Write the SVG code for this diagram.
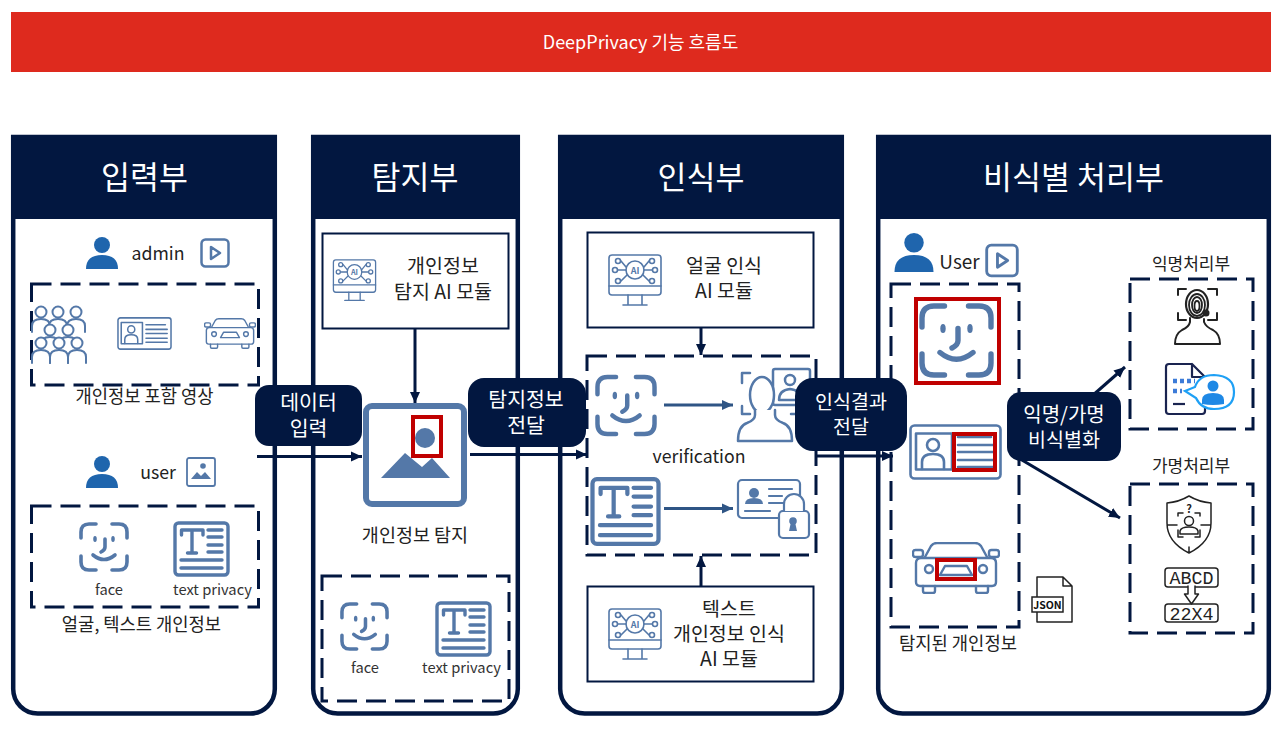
<svg xmlns="http://www.w3.org/2000/svg" width="1285" height="732" viewBox="0 0 1285 732">
<style>
text{font-family:"Noto Sans CJK KR","Noto Sans",sans-serif;fill:#222;text-anchor:middle}
.h{font-size:31.500px;fill:#fff}
.l{font-size:17.700px}
.s{font-size:14.700px;fill:#333}
.m{font-size:19.500px}
.u{font-size:17.700px}
.p{font-size:20.500px;fill:#fff}
.panel{fill:#fff;stroke:#021740;stroke-width:4.500}
.head{fill:#021740}
.dash{fill:none;stroke:#021740;stroke-width:3;stroke-dasharray:20 9}
.box{fill:#fff;stroke:#021740;stroke-width:2}
.pill{fill:#021740}
.ico{fill:none;stroke:#5478A8;stroke-linecap:round;stroke-linejoin:round}
.sol{fill:#5478A8;stroke:none}
.red{fill:none;stroke:#C00000;stroke-width:4}
.c{fill:none;stroke:#021740;stroke-width:3}
.ci{fill:none;stroke:#2F5585;stroke-width:3}
.bk{fill:none;stroke:#222;stroke-width:1.500;stroke-linecap:round;stroke-linejoin:round}
.mono{font-family:"Liberation Mono",monospace;font-size:19px}
</style>
<defs>
<marker id="a" markerUnits="userSpaceOnUse" markerWidth="12" markerHeight="12" refX="11" refY="6" orient="auto"><path d="M0,1 L11,6 L0,11 Z" fill="#021740"/></marker>
<marker id="b" markerUnits="userSpaceOnUse" markerWidth="12" markerHeight="12" refX="11" refY="6" orient="auto"><path d="M0,1 L11,6 L0,11 Z" fill="#2F5585"/></marker>
<symbol id="face" viewBox="0 0 50 50"><g class="ico" stroke-width="3.600"><path d="M2,16V10Q2,2 10,2H17M33,2H40Q48,2 48,10V16M2,34V40Q2,48 10,48H17M33,48H40Q48,48 48,40V34M26,17V25Q26,28 22,30M14,33Q25,42 36,33"/></g><ellipse class="sol" cx="16" cy="17" rx="1.800" ry="3"/><ellipse class="sol" cx="34" cy="17" rx="1.800" ry="3"/></symbol>
<symbol id="doc" viewBox="0 0 57 56"><rect class="ico" x="2" y="2" width="53" height="52" rx="3.500" stroke-width="3.400"/><path class="ico" stroke-width="3.400" d="M8.500,14V9H30V14M19,9V31M14.500,32H23.500M35,9H49M35,16H49M35,24H49M35,31H49M8,39H49M8,47H49"/></symbol>
<symbol id="user" viewBox="0 0 32 32"><circle cx="16" cy="8" r="8" fill="#1F65AD"/><path d="M0,32Q0,18 16,18Q32,18 32,32Z" fill="#1F65AD"/></symbol>
<symbol id="play" viewBox="0 0 30 30"><rect class="ico" x="1.500" y="1.500" width="27" height="27" rx="4" stroke-width="2.500"/><path class="ico" stroke-width="2.500" d="M11,9V21L20,15Z"/></symbol>
<symbol id="pic" viewBox="0 0 30 30"><rect class="ico" x="1" y="1" width="28" height="28" rx="2" stroke-width="1.800"/><circle class="sol" cx="17" cy="9" r="2.800"/><path class="sol" d="M5,22L11,15L15,19L19,15L25,22Z"/></symbol>
<symbol id="ai" viewBox="0 0 54 53"><g class="ico" stroke-width="1.600"><rect x="1" y="1" width="52" height="40" rx="3"/><path d="M1,32H53M20,41V51M34,41V51M15,51H39M18,13L13,7M18,16H10M19,21L13,27M36,13L41,7M36,16H44M35,21L41,27"/><circle cx="27" cy="16" r="9"/><circle cx="10" cy="7" r="2.500"/><circle cx="7" cy="16" r="2.500"/><circle cx="10" cy="27" r="2.500"/><circle cx="44" cy="7" r="2.500"/><circle cx="47" cy="16" r="2.500"/><circle cx="44" cy="27" r="2.500"/></g><text x="27" y="19.500" style="font-size:9px;font-weight:700;fill:#5478A8">AI</text></symbol>
<symbol id="id" viewBox="0 0 93 56"><g class="ico" stroke-width="2.600"><rect x="1.500" y="1.500" width="90" height="53" rx="4"/><rect x="7" y="9.500" width="36" height="36"/><circle cx="24" cy="21" r="6"/><path d="M13,45V38Q13,30 24,30Q35,30 35,38V45M49,13H82M49,21H85M49,28H85M49,36H85M49,43H85"/></g></symbol>
<symbol id="car" viewBox="0 0 88 52"><g class="ico" stroke-width="2.400"><path d="M13,15L19,4Q21,1 25,1H63Q67,1 69,4L75,15"/><path d="M9,16H79Q84,16 84,21V40Q84,44 80,44H8Q4,44 4,40V21Q4,16 9,16Z"/><rect x="1" y="8" width="10" height="7" rx="2.500"/><rect x="77" y="8" width="10" height="7" rx="2.500"/><circle cx="17" cy="27" r="4"/><circle cx="71" cy="27" r="4"/><path d="M28,33H60L55,24H33Z"/><path d="M11,44V49Q11,51 13,51H21Q23,51 23,49V44M64,44V49Q64,51 66,51H74Q76,51 76,49V44"/></g></symbol>
<g id="o"><path class="ico" stroke-width="2" style="fill:#fff" d="M-9,13V7Q-9,0 0,0Q9,0 9,7V13"/><circle r="5.500" cy="-7" class="ico" stroke-width="2" style="fill:#fff"/></g>
</defs>

<rect id="title-bar" x="11" y="12" width="1260" height="60" fill="#DE2A1E"/>
<text x="640.500" y="49" style="font-size:18px;fill:#fff">DeepPrivacy 기능 흐름도</text>

<g id="panel-input">
<path class="panel" d="M13.200,137V689A24.500,24.500 0 0 0 37.700,713.500H250.300A24.500,24.500 0 0 0 274.800,689V137Z"/>
<rect class="head" x="11" y="135" width="266" height="84"/>
<text class="h" x="144.500" y="189">입력부</text>
<use href="#user" x="86" y="237" width="32" height="32"/>
<text class="u" x="158" y="260">admin</text>
<use href="#play" x="200" y="238" width="30" height="30"/>
<rect class="dash" x="31.500" y="284" width="227" height="101"/>
<g transform="translate(41 319)"><use href="#o" x="0" y="0"/><use href="#o" x="17" y="0"/><use href="#o" x="35" y="0"/><use href="#o" x="9" y="18"/><use href="#o" x="27" y="18"/><use href="#o" x="0" y="31"/><use href="#o" x="18" y="31"/><use href="#o" x="36" y="31"/></g>
<use href="#id" x="117" y="317" width="55" height="33"/>
<use href="#car" x="204" y="318" width="52" height="31"/>
<text class="l" x="144.500" y="403">개인정보 포함 영상</text>
<use href="#user" x="86" y="456" width="32" height="32"/>
<text class="u" x="158" y="479">user</text>
<use href="#pic" x="186" y="457" width="30" height="30"/>
<rect class="dash" x="31.500" y="506" width="227" height="101"/>
<use href="#face" x="79" y="522" width="50" height="50"/>
<use href="#doc" x="173" y="521" width="57" height="56"/>
<text class="s" x="109" y="595">face</text>
<text class="s" x="212.500" y="595">text privacy</text>
<text class="l" x="141.500" y="631">얼굴, 텍스트 개인정보</text>
</g>

<g id="panel-detect">
<path class="panel" d="M313.200,137V689A24.500,24.500 0 0 0 337.700,713.500H493.300A24.500,24.500 0 0 0 517.800,689V137Z"/>
<rect class="head" x="311" y="135" width="209" height="84"/>
<text class="h" x="415" y="189">탐지부</text>
<rect class="box" x="322.500" y="233.500" width="186" height="95"/>
<use href="#ai" x="332" y="259" width="45" height="43"/>
<text class="m" x="443" y="273">개인정보</text>
<text class="m" x="443" y="299">탐지 AI 모듈</text>
<rect x="366" y="406" width="98" height="98" rx="6" fill="#fff" stroke="#5478A8" stroke-width="6"/>
<circle class="sol" cx="425" cy="438" r="10"/>
<path class="sol" stroke="#5478A8" d="M381,478L405,453L422,467L432,458L450,478Z"/>
<rect class="red" x="413" y="417" width="28" height="39"/>
<text x="415" y="542" style="font-size:18.500px">개인정보 탐지</text>
<rect class="dash" x="322" y="576" width="187" height="125"/>
<use href="#face" x="340" y="602" width="49" height="49"/>
<use href="#doc" x="435" y="601" width="57" height="56"/>
<text class="s" x="365" y="673">face</text>
<text class="s" x="461.500" y="673">text privacy</text>
</g>

<g id="panel-recognize">
<path class="panel" d="M560.200,137V689A24.500,24.500 0 0 0 584.700,713.500H817.300A24.500,24.500 0 0 0 841.800,689V137Z"/>
<rect class="head" x="558" y="135" width="286" height="84"/>
<text class="h" x="701" y="189">인식부</text>
<rect class="box" x="587.500" y="232.500" width="226" height="95"/>
<use href="#ai" x="608" y="254" width="54" height="53"/>
<text class="m" x="724" y="273">얼굴 인식</text>
<text class="m" x="724" y="298">AI 모듈</text>
<rect class="dash" x="587" y="356" width="229" height="199"/>
<use href="#face" x="595" y="374" width="62" height="63"/>
<use href="#doc" x="590" y="476" width="71" height="71"/>
<g transform="translate(737 368)">
<g class="ico" stroke-width="2.500">
<path d="M13,5H5V15M5,38V46H13M62,38V46H54"/>
<rect x="36" y="1" width="37" height="36" rx="2" style="fill:#fff"/>
<circle cx="53" cy="12" r="5"/>
<path d="M42,32Q42,22 53,21Q64,22 64,32Z"/>
<ellipse cx="25" cy="27" rx="12" ry="18" style="fill:#fff"/>
<path d="M18,42V47Q18,52 10,55Q1,58 1,73H55Q55,58 46,55Q38,52 38,47V42" style="fill:#fff"/>
</g></g>
<g transform="translate(737 478)">
<g class="ico" stroke-width="2.200">
<rect x="1" y="2" width="62" height="38" rx="4"/>
<path d="M32,11H55M32,18H45M32,25H50M8,33H33"/>
<rect x="42" y="33" width="30" height="27" rx="4" style="fill:#fff"/>
<path d="M47,33V26A10,10 0 0 1 67,26V33" style="fill:#fff"/>
</g>
<circle class="sol" cx="17" cy="15" r="5"/>
<path class="sol" d="M8,26Q8,20 17,20Q26,20 26,26Z"/>
<circle class="sol" cx="56" cy="43" r="3.800"/>
<path class="sol" d="M54,44H58L60,53H52Z"/>
</g>
<text class="l" x="699" y="463">verification</text>
<rect class="box" x="587.500" y="586.500" width="226" height="95"/>
<use href="#ai" x="608" y="608" width="54" height="53"/>
<text class="m" x="729" y="616">텍스트</text>
<text class="m" x="729" y="641">개인정보 인식</text>
<text class="m" x="729" y="666">AI 모듈</text>
</g>

<g id="panel-deid">
<path class="panel" d="M878.200,137V689A24.500,24.500 0 0 0 902.700,713.500H1244.300A24.500,24.500 0 0 0 1268.800,689V137Z"/>
<rect class="head" x="876" y="135" width="395" height="84"/>
<text class="h" x="1073.500" y="189">비식별 처리부</text>
<use href="#user" x="894" y="233" width="40" height="39"/>
<text x="959.500" y="269" style="font-size:19px">User</text>
<use href="#play" x="985" y="243" width="34" height="35"/>
<rect class="dash" x="891" y="284" width="128" height="343"/>
<use href="#face" x="919" y="303" width="75" height="75"/>
<rect class="red" x="916" y="299" width="83" height="84"/>
<use href="#id" x="909" y="424" width="93" height="56"/>
<rect class="red" x="954" y="434" width="41" height="36"/>
<use href="#car" x="912" y="542" width="88" height="52"/>
<rect class="red" x="937" y="560" width="38" height="19"/>
<text class="l" x="958" y="650">탐지된 개인정보</text>
<path class="bk" d="M1037,597V577H1063L1072,586V622H1037V612M1063,577V586H1072"/>
<rect x="1032" y="597" width="31" height="15" fill="#fff" stroke="#222" stroke-width="1.500"/>
<text x="1047.500" y="608.500" style="font-size:10.500px;font-weight:700;fill:#111">JSON</text>
<text x="1191" y="270" style="font-size:17px">익명처리부</text>
<rect class="dash" x="1130" y="279" width="123" height="150"/>
<g transform="translate(1174 288)">
<path class="bk" stroke-width="2" style="stroke-width:2" d="M4,7V1H12M34,1H43V7M4,25V32H12M34,32H43V25"/>
<ellipse class="bk" cx="23" cy="16" rx="11" ry="14" style="stroke-width:2.200"/>
<ellipse class="bk" cx="23" cy="17" rx="8" ry="11" style="stroke-width:1.800"/><ellipse class="bk" cx="23" cy="17" rx="5" ry="8" style="stroke-width:1.800"/><ellipse class="bk" cx="23" cy="18" rx="2.500" ry="5" style="stroke-width:1.800"/>
<circle cx="32" cy="25" r="3.500" fill="#222"/>
<path class="bk" style="stroke-width:2" d="M16,30V34Q15,39 8,42Q1,46 1,56H46Q46,46 39,42Q32,39 30,34V31"/>
</g>
<g transform="translate(1165 363)">
<path fill="none" stroke="#1A2450" stroke-width="2.200" stroke-linejoin="round" d="M27,1H4Q1,1 1,4V48Q1,51 4,51H37Q40,51 40,48V14L27,1V14H40"/>
<path fill="none" stroke="#1A2450" stroke-width="2.200" d="M8,41H20"/>
<path fill="none" stroke="#3C7BD8" stroke-width="4.500" stroke-dasharray="4 3" d="M8,18H30M8,28H17"/>
<path fill="#fff" stroke="#1EA0F5" stroke-width="2.200" d="M20,28L30,24Q34,12 49,12Q69,13 69,29Q69,46 49,46Q36,46 31,35Z"/>
<circle cx="48" cy="23" r="5.500" fill="#1E88E5"/>
<path d="M37,41V37Q37,30 48,30Q59,30 59,37V41Q48,43 37,41Z" fill="#1E88E5"/>
</g>
<text x="1191" y="472" style="font-size:17px">가명처리부</text>
<rect class="dash" x="1130" y="484" width="123" height="149"/>
<g transform="translate(1166 495)">
<path class="bk" d="M23,1Q33,7 45,8V28Q45,47 23,58Q1,47 1,28V8Q13,7 23,1ZM1,30H11M35,30H45M23,52V58M12,21V18H17M29,18H34V21M12,35V42H17M29,42H34V35"/>
<text x="23" y="18" style="font-size:11px;font-weight:700">?</text>
<circle class="bk" cx="23" cy="26" r="4.500"/>
<path class="bk" d="M14,39V36Q15,32 23,32Q31,32 32,36V39Z"/>
</g>
<rect class="bk" x="1165" y="568" width="53" height="19" rx="3"/>
<text class="mono" x="1191.500" y="584" textLength="44" lengthAdjust="spacingAndGlyphs">ABCD</text>
<rect class="bk" x="1165" y="604" width="53" height="18" rx="3"/>
<text class="mono" x="1191.500" y="620" textLength="44" lengthAdjust="spacingAndGlyphs">22X4</text>
<path class="bk" style="fill:#fff" d="M1188,586V594H1184.500L1191.500,604L1198.500,594H1195V586"/>
</g>

<g id="connectors">
<path class="c" marker-end="url(#a)" d="M257,456.500H362"/>
<path class="c" marker-end="url(#a)" d="M415,329V403"/>
<path class="c" marker-end="url(#a)" d="M470,454.500H587"/>
<path class="c" marker-end="url(#a)" d="M701,328V355"/>
<path class="c" marker-end="url(#a)" d="M701,586V556"/>
<path class="ci" marker-end="url(#b)" d="M664,405H733"/>
<path class="ci" marker-end="url(#b)" d="M664,508.500H733"/>
<path class="c" marker-end="url(#a)" d="M815,456H893"/>
<path class="c" marker-end="url(#a)" d="M1092,396L1125,367"/>
<path class="c" marker-end="url(#a)" d="M1015,456L1120,518"/>
</g>

<g id="pill-data"><rect class="pill" x="255" y="385" width="107" height="61" rx="14"/><text class="p" x="308.500" y="410">데이터</text><text class="p" x="308.500" y="436">입력</text></g>
<g id="pill-detect"><rect class="pill" x="468" y="378" width="118" height="69" rx="16"/><text class="p" x="526" y="407">탐지정보</text><text class="p" x="526" y="433">전달</text></g>
<g id="pill-recognize"><rect class="pill" x="795" y="378" width="112" height="73" rx="18"/><text class="m" x="851" y="409" style="fill:#fff">인식결과</text><text class="m" x="851" y="434" style="fill:#fff">전달</text></g>
<g id="pill-deid"><rect class="pill" x="1007" y="392" width="114" height="69" rx="14"/><text class="m" x="1064" y="422" style="fill:#fff;font-size:20px">익명/가명</text><text class="m" x="1064" y="447" style="fill:#fff">비식별화</text></g>
</svg>
